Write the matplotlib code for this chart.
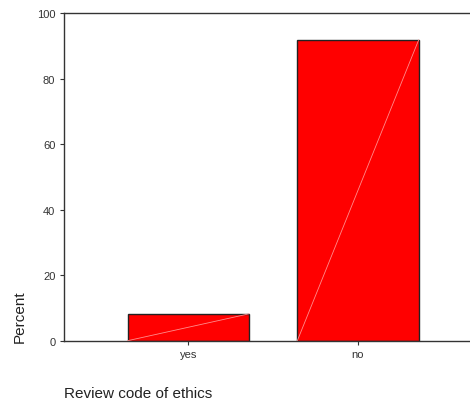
import matplotlib
matplotlib.use('Agg')
import matplotlib.pyplot as plt

categories = ['yes', 'no']
percent = [8.2, 91.8]
y_ticks = [0, 20, 40, 60, 80, 100]

plt.rcParams['font.family'] = ['Liberation Sans', 'DejaVu Sans']

fig = plt.figure(figsize=(4.70, 4.02), dpi=100)
ax = fig.add_axes([0.137, 0.15, 0.863, 0.815])

width = 0.715
x = list(range(len(categories)))
bars = ax.bar(x, percent, width=width, color='#ff0000', edgecolor='#222222', linewidth=1.0, zorder=2)

# SPSS draws a faint diagonal across each bar
for b in bars:
    x0 = b.get_x()
    x1 = x0 + b.get_width()
    ax.plot([x0, x1], [0, b.get_height()], color='#ff8c8c', linewidth=0.6, zorder=3)

ax.set_xlim(-0.73, 1.66)
ax.set_ylim(0, 100)
ax.set_xticks(x)
ax.set_xticklabels(categories)
ax.set_yticks(y_ticks)

ax.spines['right'].set_visible(False)
for side in ['left', 'top', 'bottom']:
    ax.spines[side].set_color('#333333')
    ax.spines[side].set_linewidth(1.0)

ax.tick_params(axis='both', colors='#333333', labelsize=8, length=3, width=0.8, direction='out')
ax.tick_params(axis='x', pad=3)

fig.text(0.042, 0.148, 'Percent', rotation=90, ha='center', va='bottom', fontsize=11, color='#222222')
fig.text(0.137, 0.024, 'Review code of ethics', ha='left', va='center_baseline', fontsize=11, color='#222222')

plt.savefig('out.png', dpi=100)
